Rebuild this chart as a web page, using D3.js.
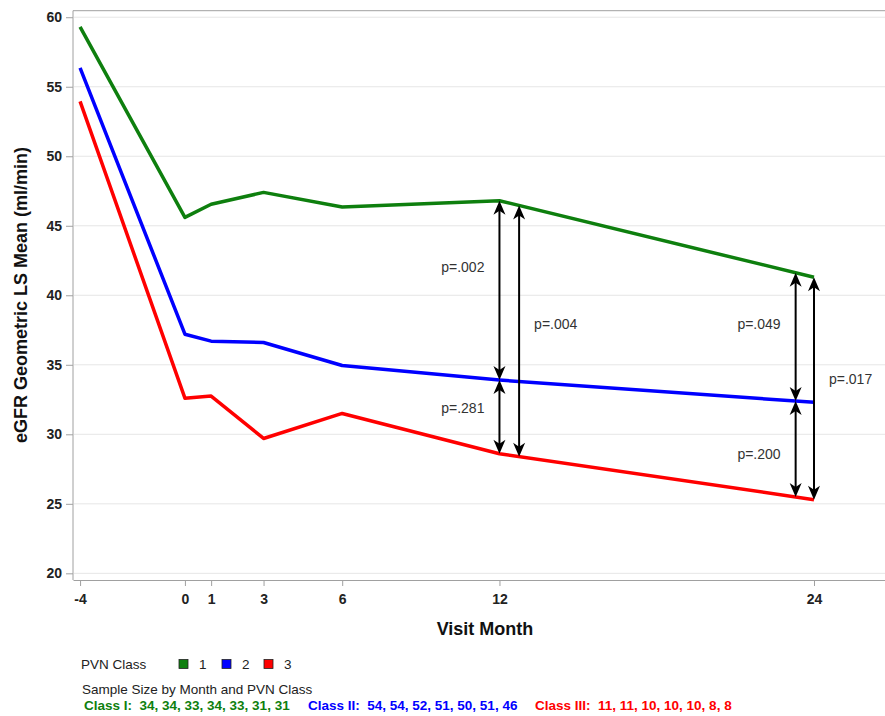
<!DOCTYPE html>
<html>
<head>
<meta charset="utf-8">
<script src="https://cdn.jsdelivr.net/npm/d3@7"></script>
<style>
  body { margin: 0; background: #fff; }
  text { font-family: "Liberation Sans", Arial, sans-serif; }
</style>
</head>
<body>
<svg id="chart" width="885" height="716"></svg>
<script>
// visit months and geometric LS means per PVN class
const months = [-4, 0, 1, 3, 6, 12, 24];
const class1 = [59.3, 45.6, 46.55, 47.4, 46.35, 46.8, 41.3];
const class2 = [56.35, 37.2, 36.7, 36.6, 34.95, 33.9, 32.3];
const class3 = [53.95, 32.6, 32.75, 29.7, 31.5, 28.6, 25.3];
const seriesNames = ["1", "2", "3"];
const seriesColors = ["#0e7f0e", "#0000ff", "#ff0000"];
const yTicks = [20, 25, 30, 35, 40, 45, 50, 55, 60];

// p-value arrows: month, from class, to class, label, label level
const arrowMonth = [12, 12, 12.75, 23.3, 23.3, 24];
const arrowFrom = [0, 1, 0, 0, 1, 0];
const arrowTo = [1, 2, 2, 1, 2, 2];
const arrowLabel = ["p=.002", "p=.281", "p=.004", "p=.049", "p=.200", "p=.017"];
const arrowLabelAt = [42.0, 31.9, 37.9, 37.9, 28.6, 34.0];
const arrowLabelSide = [-1, -1, 1, -1, -1, 1];

// sample size footnote
const sampleClass = ["Class I:", "Class II:", "Class III:"];
const sampleSizes = [
  [34, 34, 33, 34, 33, 31, 31],
  [54, 54, 52, 51, 50, 51, 46],
  [11, 11, 10, 10, 10, 8, 8]
];

const series = [class1, class2, class3];

const svg = d3.select("#chart");
const x = d3.scaleLinear().domain([-4.27, 26.9]).range([73, 890]);
const y = d3.scaleLinear().domain([19.52, 60.47]).range([580, 10.7]);

// gridlines
svg.append("g")
   .selectAll("line")
   .data(yTicks)
   .enter()
   .append("line")
   .attr("x1", 74).attr("x2", 890)
   .attr("y1", d => y(d)).attr("y2", d => y(d))
   .attr("stroke", "#e6e6e6")
   .attr("stroke-width", 1);

// frame top
svg.append("line")
   .attr("x1", 73).attr("x2", 890)
   .attr("y1", 10.7).attr("y2", 10.7)
   .attr("stroke", "#a0a0a0");

// axes
const yAxis = svg.append("g")
   .attr("transform", "translate(73,0)")
   .call(d3.axisLeft(y).tickValues(yTicks).tickSize(7).tickPadding(4).tickSizeOuter(0));
const xAxis = svg.append("g")
   .attr("transform", "translate(0,580)")
   .call(d3.axisBottom(x).tickValues(months).tickFormat(d => String(d))
           .tickSize(6).tickPadding(8).tickSizeOuter(0));

[yAxis, xAxis].forEach(ax => {
  ax.select(".domain").attr("stroke", "#a0a0a0");
  ax.selectAll(".tick line").attr("stroke", "#a0a0a0");
  ax.selectAll("text")
    .attr("fill", "#222")
    .style("font-family", "'Liberation Sans', Arial, sans-serif")
    .style("font-size", "14px")
    .style("font-weight", "bold");
});
yAxis.select(".domain").attr("d", "M0,10.7V580");

// axis titles
svg.append("text")
   .attr("x", 485).attr("y", 635)
   .attr("text-anchor", "middle")
   .style("font-size", "18px").style("font-weight", "bold")
   .attr("fill", "#111")
   .text("Visit Month");

svg.append("text")
   .attr("transform", "translate(27,295) rotate(-90)")
   .attr("text-anchor", "middle")
   .style("font-size", "18px").style("font-weight", "bold")
   .attr("fill", "#111")
   .text("eGFR Geometric LS Mean (ml/min)");

// lines
const line = d3.line()
   .x((d, i) => x(months[i]))
   .y(d => y(d));

svg.append("g")
   .selectAll("path")
   .data(series)
   .enter()
   .append("path")
   .attr("d", line)
   .attr("fill", "none")
   .attr("stroke", (d, i) => seriesColors[i])
   .attr("stroke-width", 3.5)
   .attr("stroke-linejoin", "round");

// value of a series at a given month (for arrow ends)
function valueAt(s, m) {
  const interp = d3.scaleLinear().domain(months).range(s);
  return interp(m);
}

const head = "M0,0L-6,14L0,10L6,14Z";
const arrows = svg.append("g");
arrowMonth.forEach((m, i) => {
  const px = x(m);
  const yTop = y(valueAt(series[arrowFrom[i]], m));
  const yBot = y(valueAt(series[arrowTo[i]], m));
  arrows.append("line")
        .attr("x1", px).attr("x2", px)
        .attr("y1", yTop + 6).attr("y2", yBot - 6)
        .attr("stroke", "#000")
        .attr("stroke-width", 2);
  arrows.append("path")
        .attr("d", head)
        .attr("transform", `translate(${px},${yTop})`)
        .attr("fill", "#000");
  arrows.append("path")
        .attr("d", head)
        .attr("transform", `translate(${px},${yBot}) rotate(180)`)
        .attr("fill", "#000");
  arrows.append("text")
        .attr("x", px + arrowLabelSide[i] * 15)
        .attr("y", y(arrowLabelAt[i]))
        .attr("dy", "0.35em")
        .attr("text-anchor", arrowLabelSide[i] < 0 ? "end" : "start")
        .style("font-size", "14px")
        .attr("fill", "#333")
        .text(arrowLabel[i]);
});

// legend
const legend = svg.append("g");
legend.append("text")
      .attr("x", 81).attr("y", 664).attr("dy", "0.35em")
      .style("font-size", "13.5px").attr("fill", "#222")
      .text("PVN Class");
const legendX = [179, 222, 264];
seriesNames.forEach((n, i) => {
  legend.append("rect")
        .attr("x", legendX[i]).attr("y", 659.5)
        .attr("width", 9).attr("height", 9)
        .attr("fill", seriesColors[i])
        .attr("stroke", "#222").attr("stroke-width", 0.8);
  legend.append("text")
        .attr("x", legendX[i] + 20).attr("y", 664).attr("dy", "0.35em")
        .style("font-size", "13.5px").attr("fill", "#222")
        .text(n);
});

svg.append("text")
   .attr("x", 82).attr("y", 689).attr("dy", "0.35em")
   .style("font-size", "13.5px").attr("fill", "#222")
   .text("Sample Size by Month and PVN Class");

const sampleX = [84, 308, 535];
sampleClass.forEach((c, i) => {
  svg.append("text")
     .attr("x", sampleX[i]).attr("y", 705.5).attr("dy", "0.35em")
     .style("font-size", "13.5px").style("font-weight", "bold")
     .attr("fill", seriesColors[i])
     .attr("xml:space", "preserve")
     .text(c + "  " + sampleSizes[i].join(", "));
});
</script>
</body>
</html>
